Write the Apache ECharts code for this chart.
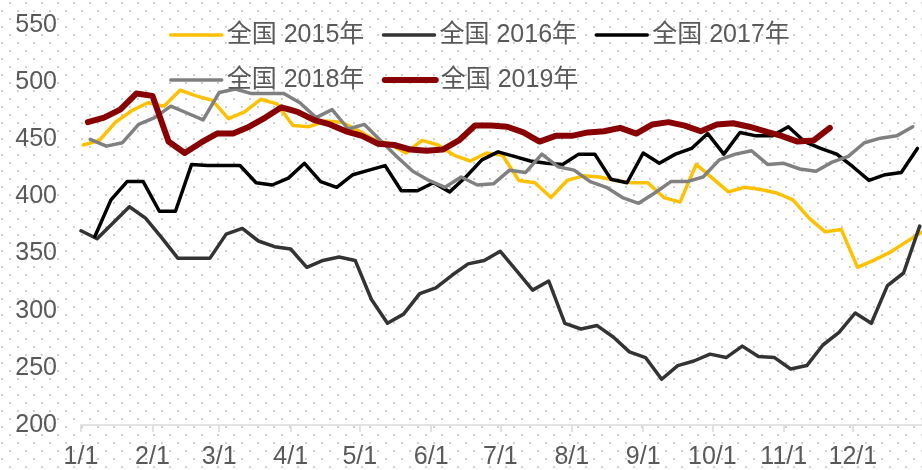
<!DOCTYPE html>
<html>
<head>
<meta charset="utf-8">
<script src="https://cdn.jsdelivr.net/npm/echarts@6/dist/echarts.min.js"></script>
<style>
  html, body { margin: 0; padding: 0; background: #fff; }
  #main { width: 922px; height: 470px; }
</style>
</head>
<body>
<div id="main"></div>
<script>
// 周度价格，全国，按年份
var seriesNames = ['全国 2015年', '全国 2016年', '全国 2017年', '全国 2018年', '全国 2019年'];
// 每年第一个数据点所在的日（从1月1日算起）
var startDays = [1, 0, 6, 4, 3];

var y2015 = [445, 449, 465, 475, 482, 479, 493, 488, 484, 468, 474, 485, 481, 462, 461, 466, 465, 458, 450, 446,
    438, 449, 445, 436, 431, 438, 436, 414, 412, 399, 414, 418, 417, 414, 412, 412, 399, 395, 428, 416,
    404, 408, 406, 403, 397, 381, 369, 371, 338, 344, 351, 360, 369];
var y2016 = [370, 363, 377, 391, 381, 364, 346, 346, 346, 367, 372, 361, 356, 354, 338, 344, 347, 344, 310, 289,
    297, 315, 320, 331, 341, 344, 352, 335, 318, 326, 289, 284, 287, 277, 264, 259, 240, 252, 256, 262,
    259, 269, 260, 259, 249, 252, 270, 281, 298, 289, 322, 333, 374];
var y2017 = [365, 397, 413, 413, 387, 387, 428, 427, 427, 427, 412, 410, 416, 429, 413, 408, 419, 423, 427, 405,
    405, 412, 404, 417, 432, 439, 435, 431, 429, 428, 437, 437, 415, 412, 438, 429, 437, 442, 455, 437,
    456, 453, 453, 461, 448, 442, 437, 426, 414, 419, 421, 442];
var y2018 = [450, 444, 447, 463, 469, 479, 473, 467, 491, 494, 490, 490, 490, 482, 469, 476, 459, 463, 449, 435,
    422, 414, 408, 417, 410, 411, 423, 421, 437, 426, 423, 413, 408, 399, 394, 403, 413, 413, 417, 432,
    437, 440, 428, 429, 424, 422, 430, 435, 447, 451, 453, 461];
var y2019 = [465, 469, 476, 490, 488, 448, 438, 447, 455, 455, 461, 469, 478, 474, 467, 463, 457, 453, 446, 445,
    441, 440, 441, 449, 462, 462, 461, 456, 448, 453, 453, 456, 457, 460, 455, 463, 465, 462, 457, 463,
    464, 461, 457, 453, 448, 449, 460];
var allValues = [y2015, y2016, y2017, y2018, y2019];

var colors = ['#FFC000', '#333333', '#000000', '#808080', '#880000'];
var widths = [3.5, 3.5, 3.5, 3.5, 6];

// 日期类目（按闰年，1/1 ~ 12/31）
var monthDays = [31, 29, 31, 30, 31, 30, 31, 31, 30, 31, 30, 31];
var dayLabels = [];
var monthStart = {};
monthDays.forEach(function (n, m) {
    for (var d = 1; d <= n; d++) {
        if (d === 1) monthStart[dayLabels.length] = true;
        dayLabels.push((m + 1) + '/' + d);
    }
});

var font = "'Liberation Sans', 'Noto Sans CJK SC', sans-serif";

// 点状背景
var tile = document.createElement('canvas');
tile.width = 16;
tile.height = 16;
var tctx = tile.getContext('2d');
tctx.fillStyle = '#d0d0d0';
tctx.fillRect(9, 2, 2, 2);
tctx.fillRect(1, 10, 2, 2);

var myChart = echarts.init(document.getElementById('main'));

var series = allValues.map(function (vals, k) {
    return {
        name: seriesNames[k],
        type: 'line',
        symbol: 'none',
        data: vals.map(function (v, i) { return [startDays[k] + 7 * i, v]; }),
        lineStyle: { color: colors[k], width: widths[k], cap: 'round', join: 'round' },
        itemStyle: { color: colors[k] }
    };
});

var option = {
    animation: false,
    graphic: [{
        type: 'rect',
        z: -100,
        silent: true,
        shape: { x: 0, y: 0, width: 922, height: 470 },
        style: { fill: { image: tile, repeat: 'repeat' } }
    }],
    legend: {
        data: seriesNames,
        left: 169,
        top: 16,
        padding: 0,
        width: 650,
        itemWidth: 51,
        itemHeight: 14,
        itemGap: 7,
        itemStyle: { opacity: 0 },
        lineStyle: { width: 'inherit', cap: 'round' },
        textStyle: { fontSize: 25, color: '#595959', fontFamily: font, width: 148, lineHeight: 38 }
    },
    grid: { left: 81, right: -3, top: 25, bottom: 41 },
    xAxis: {
        type: 'category',
        data: dayLabels,
        boundaryGap: false,
        axisLine: { lineStyle: { color: '#d9d9d9', width: 1.5 } },
        axisTick: {
            interval: function (i) { return !!monthStart[i]; },
            length: 7,
            lineStyle: { color: '#d9d9d9', width: 1.5 }
        },
        axisLabel: {
            interval: function (i) { return !!monthStart[i]; },
            fontSize: 25,
            color: '#595959',
            fontFamily: font,
            margin: 20
        },
        splitLine: { show: false }
    },
    yAxis: {
        type: 'value',
        min: 200,
        max: 550,
        interval: 50,
        axisLine: { show: false },
        axisTick: { show: false },
        splitLine: { show: false },
        axisLabel: { fontSize: 25, color: '#595959', fontFamily: font, margin: 24 }
    },
    series: series
};

myChart.setOption(option);
</script>
</body>
</html>
